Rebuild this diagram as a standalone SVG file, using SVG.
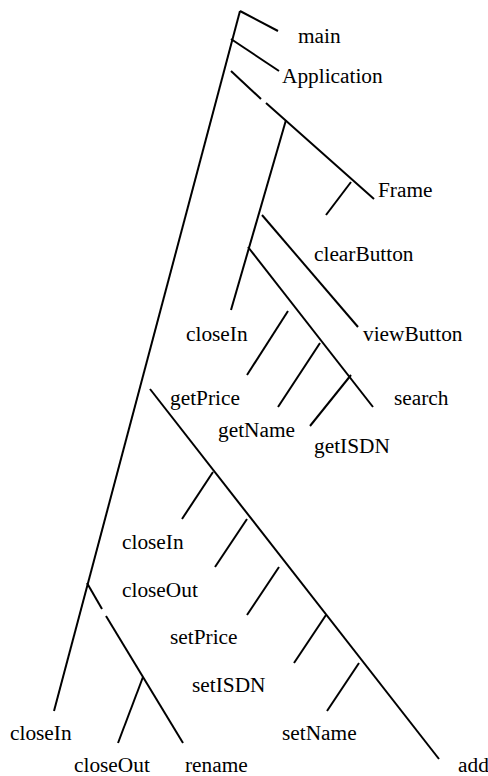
<svg xmlns="http://www.w3.org/2000/svg" width="488" height="776" viewBox="0 0 488 776">
<style>
text{font-family:"Liberation Serif","Times New Roman",serif;font-size:21.33px;fill:#000}
line{stroke:#000;stroke-width:2;stroke-linecap:butt}
</style>
<rect width="488" height="776" fill="#fff"/>
<g id="connectors">
<line x1="240" y1="11" x2="54" y2="711"/>
<line x1="240" y1="11" x2="278" y2="31"/>
<line x1="231" y1="39" x2="279" y2="71"/>
<line x1="231" y1="71" x2="261" y2="99"/>
<line x1="266" y1="103" x2="374" y2="199"/>
<line x1="351" y1="182" x2="326" y2="215"/>
<line x1="286" y1="120" x2="231" y2="310"/>
<line x1="262" y1="215" x2="358" y2="327"/>
<line x1="248" y1="247" x2="373" y2="407"/>
<line x1="288" y1="311" x2="247" y2="375"/>
<line x1="320" y1="343" x2="278" y2="407"/>
<line x1="351" y1="375" x2="310" y2="426"/>
<line x1="150" y1="389" x2="439" y2="759"/>
<line x1="213" y1="472" x2="182" y2="519"/>
<line x1="247" y1="519" x2="215" y2="567"/>
<line x1="279" y1="567" x2="247" y2="615"/>
<line x1="326" y1="615" x2="294" y2="663"/>
<line x1="359" y1="663" x2="327" y2="711"/>
<line x1="87" y1="583" x2="102" y2="609"/>
<line x1="106" y1="616" x2="183" y2="743"/>
<line x1="143" y1="677" x2="118" y2="743"/>
</g>
<g id="n-main"><text x="298" y="43">main</text></g>
<g id="n-application"><text x="282" y="83">Application</text></g>
<g id="n-frame"><text x="378" y="197">Frame</text></g>
<g id="n-clearButton"><text x="314" y="261">clearButton</text></g>
<g id="n-closeIn1"><text x="186" y="341">closeIn</text></g>
<g id="n-viewButton"><text x="363" y="341">viewButton</text></g>
<g id="n-getPrice"><text x="170" y="405">getPrice</text></g>
<g id="n-search"><text x="394" y="405">search</text></g>
<g id="n-getName"><text x="218" y="437">getName</text></g>
<g id="n-getISDN"><text x="314" y="453">getISDN</text></g>
<g id="n-closeIn2"><text x="122" y="549">closeIn</text></g>
<g id="n-closeOut1"><text x="122" y="597">closeOut</text></g>
<g id="n-setPrice"><text x="170" y="644">setPrice</text></g>
<g id="n-setISDN"><text x="192" y="692">setISDN</text></g>
<g id="n-closeIn3"><text x="10" y="740">closeIn</text></g>
<g id="n-setName"><text x="282" y="740">setName</text></g>
<g id="n-closeOut2"><text x="74" y="772">closeOut</text></g>
<g id="n-rename"><text x="185" y="772">rename</text></g>
<g id="n-add"><text x="458" y="772">add</text></g>
</svg>
